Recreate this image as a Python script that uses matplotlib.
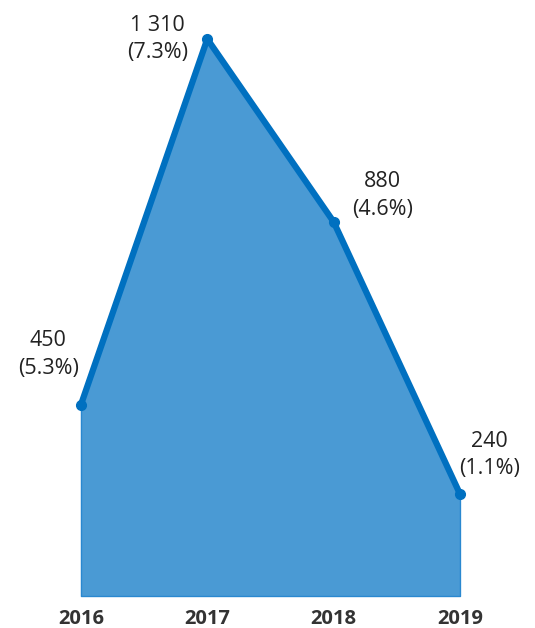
import matplotlib
matplotlib.use("Agg")
import matplotlib.pyplot as plt

# data
years = ["2016", "2017", "2018", "2019"]
values = [450, 1310, 880, 240]
shares = ["5.3%", "7.3%", "4.6%", "1.1%"]
labels = ["450", "1 310", "880", "240"]

# label offsets (points) relative to each marker
offsets = [(-23.5, 36), (-36, 0), (35, 19), (21, 28)]

plt.rcParams['font.family'] = ['Open Sans', 'DejaVu Sans']

fig = plt.figure(figsize=(5.35, 6.28), dpi=100)
ax = fig.add_axes([0, 0, 1, 1])

x = list(range(len(years)))
ax.fill_between(x, 0, values, color="#4a9ad4", edgecolor="#2a88d0", lw=1)
ax.plot(x, values, color="#0070c0", lw=4.5, solid_capstyle="round",
        solid_joinstyle="round", marker="o", ms=7, zorder=3)

for i, v in enumerate(values):
    dx, dy = offsets[i]
    ax.annotate(f"{labels[i]}\n({shares[i]})", (i, v), xytext=(dx, dy),
                textcoords="offset points", ha="center", va="center",
                fontsize=15.5, color="#222222", linespacing=1.4)
    ax.text(i, -55, years[i], ha="center", va="center", fontsize=14.5,
            fontweight="bold", color="#333333")

ax.set_xlim(-0.641, 3.594)
ax.set_ylim(-75.3, 1401.7)
ax.axis("off")

fig.savefig("out.png", dpi=100)
